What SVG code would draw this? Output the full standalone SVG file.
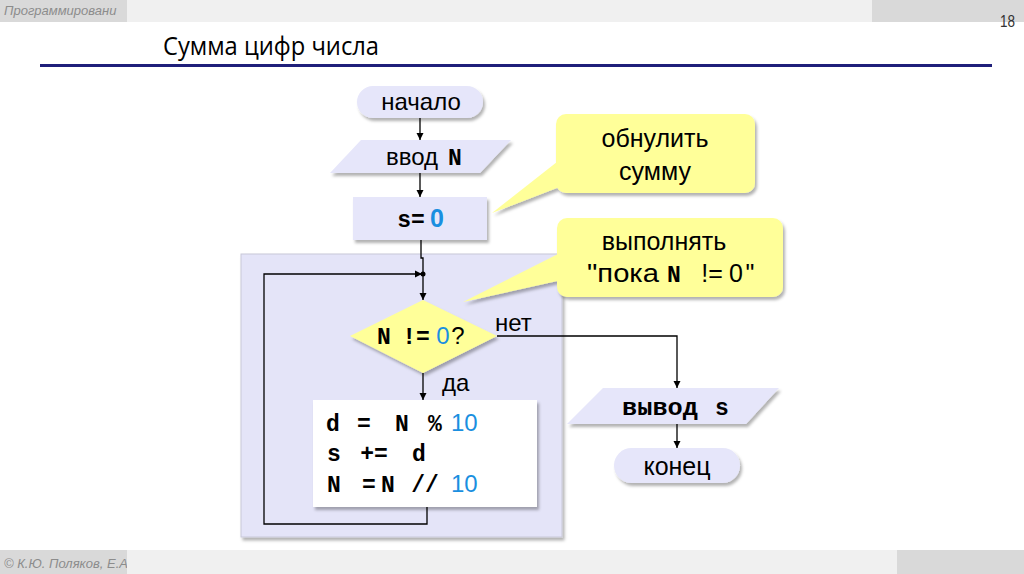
<svg xmlns="http://www.w3.org/2000/svg" width="1024" height="574" viewBox="0 0 1024 574">
<style>
.sans{font-family:"Liberation Sans",Arial,sans-serif}
.mono{font-family:"Liberation Mono","Courier New",monospace;font-weight:bold}
.t24{font-size:24px}
.t25{font-size:25px}
.m{font-family:"Liberation Mono","Courier New",monospace;font-weight:bold;font-size:23px;text-anchor:middle}
.blue{fill:#1a8fe0}
.ln{fill:none;stroke:#000;stroke-width:1.3}
.lav{fill:#e6e6fa}
.yel{fill:#ffff99}
</style>
<defs>
<filter id="sh" x="-10%" y="-10%" width="130%" height="140%">
<feDropShadow dx="2" dy="3" stdDeviation="1.5" flood-color="#000" flood-opacity="0.3"/>
</filter>
<marker id="ar" viewBox="0 0 10 10" refX="10" refY="5" markerWidth="7" markerHeight="9" orient="auto" markerUnits="userSpaceOnUse">
<path d="M0,0 L10,5 L0,10 z" fill="#000"/>
</marker>
<clipPath id="hc"><rect x="0" y="0" width="127" height="574"/></clipPath>
</defs>
<rect width="1024" height="574" fill="#fff"/>
<g id="header">
<rect x="0" y="0" width="1024" height="22" fill="#d9d9d9"/>
<rect x="127" y="0" width="745" height="22" fill="#f0f0f0"/>
<text x="4" y="15" class="sans" font-size="13" font-style="italic" fill="#8c8c8c" clip-path="url(#hc)">Программировани</text>
<text x="1000" y="27" class="sans" font-size="16" fill="#333" textLength="15" lengthAdjust="spacingAndGlyphs">18</text>
<text x="163" y="55" font-family="'Open Sans',sans-serif" font-size="26" fill="#000" textLength="216" lengthAdjust="spacingAndGlyphs">Сумма цифр числа</text>
<rect x="40" y="64" width="952" height="3" fill="#1f1f7a"/>
</g>
<g id="footer">
<rect x="0" y="550" width="1024" height="24" fill="#d9d9d9"/>
<rect x="127" y="550" width="770" height="24" fill="#f0f0f0"/>
<text x="4" y="568" class="sans" font-size="13" font-style="italic" fill="#8c8c8c" clip-path="url(#hc)">© К.Ю. Поляков, Е.А</text>
</g>
<g id="loop-area">
<rect x="241" y="254" width="321" height="283" fill="#e4e4f8" stroke="#c8c8d8" stroke-width="1" filter="url(#sh)"/>
</g>
<g id="start">
<rect x="357" y="86" width="126" height="32" rx="16" class="lav" filter="url(#sh)"/>
<text x="421" y="110" class="sans t24" text-anchor="middle">начало</text>
</g>
<g id="input">
<polygon points="361,140 511,140 480,173 330,173" class="lav" filter="url(#sh)"/>
<text x="386" y="165" class="sans t24">ввод</text>
<text x="455" y="165" class="m">N</text>
</g>
<g id="init">
<rect x="353" y="197" width="134" height="43" class="lav" filter="url(#sh)"/>
<text x="411" y="227" class="m">s=</text>
<text x="437" y="227" class="sans blue" font-weight="bold" font-size="25" text-anchor="middle">0</text>
</g>
<g id="cond">
<polygon points="423,300 497,336 423,373 350,336" class="yel" filter="url(#sh)"/>
<text x="384" y="344" class="m">N</text>
<text x="416" y="344" class="m">!=</text>
<text x="443" y="344" class="sans blue t24" text-anchor="middle">0</text>
<text x="458" y="344" class="sans t24" text-anchor="middle">?</text>
</g>
<g id="body">
<rect x="313" y="400" width="224" height="107" fill="#fff" filter="url(#sh)"/>
<text x="333" y="431" class="m">d</text>
<text x="364" y="431" class="m">=</text>
<text x="402" y="431" class="m">N</text>
<text x="435" y="431" class="m">%</text>
<text x="451" y="431" class="sans blue t24">10</text>
<text x="334" y="461" class="m">s</text>
<text x="374" y="461" class="m">+=</text>
<text x="419" y="461" class="m">d</text>
<text x="334" y="492" class="m">N</text>
<text x="369" y="492" class="m">=</text>
<text x="388" y="492" class="m">N</text>
<text x="425" y="492" class="m">//</text>
<text x="451" y="492" class="sans blue t24">10</text>
</g>
<g id="output">
<polygon points="603,388 779,388 746,424 567,424" class="lav" filter="url(#sh)"/>
<text x="660" y="415" class="m" textLength="76" lengthAdjust="spacingAndGlyphs">вывод</text>
<text x="722" y="415" class="m">s</text>
</g>
<g id="end">
<rect x="614" y="448" width="126" height="35" rx="17.5" class="lav" filter="url(#sh)"/>
<text x="677" y="475" class="sans t25" text-anchor="middle">конец</text>
</g>
<g id="connectors">
<line x1="420" y1="118" x2="420" y2="140" class="ln" marker-end="url(#ar)"/>
<line x1="420" y1="173" x2="420" y2="197" class="ln" marker-end="url(#ar)"/>
<polyline points="421,240 421,258 423,258 423,300" class="ln" marker-end="url(#ar)"/>
<polyline points="427,507 427,524 264,524 264,274 422,274" class="ln" marker-end="url(#ar)"/>
<circle cx="423" cy="274" r="2.5" fill="#000"/>
<line x1="423" y1="373" x2="423" y2="400" class="ln" marker-end="url(#ar)"/>
<polyline points="497,336 677,336 677,388" class="ln" marker-end="url(#ar)"/>
<line x1="677" y1="424" x2="677" y2="448" class="ln" marker-end="url(#ar)"/>
<text x="495" y="331" class="sans t24">нет</text>
<text x="442" y="391" class="sans t24">да</text>
</g>
<g id="callout1">
<g filter="url(#sh)">
<polygon points="562,158 492,213 562,186" class="yel"/>
<rect x="556" y="114" width="199" height="79" rx="10" class="yel"/>
</g>
<text x="655" y="147" class="sans t25" text-anchor="middle">обнулить</text>
<text x="655" y="180" class="sans t25" text-anchor="middle">сумму</text>
</g>
<g id="callout2">
<g filter="url(#sh)">
<polygon points="562,252 463,302 562,280" class="yel"/>
<rect x="557" y="218" width="226" height="79" rx="10" class="yel"/>
</g>
<text x="664" y="250" class="sans t25" text-anchor="middle">выполнять</text>
<text x="587" y="282" class="sans t25" textLength="72" lengthAdjust="spacingAndGlyphs">"пока</text>
<text x="674" y="282" class="m">N</text>
<text x="712" y="282" class="sans t25" text-anchor="middle">!=</text>
<text x="736" y="282" class="sans t25" text-anchor="middle">0</text>
<text x="750" y="282" class="sans t25" text-anchor="middle">"</text>
</g>
</svg>
